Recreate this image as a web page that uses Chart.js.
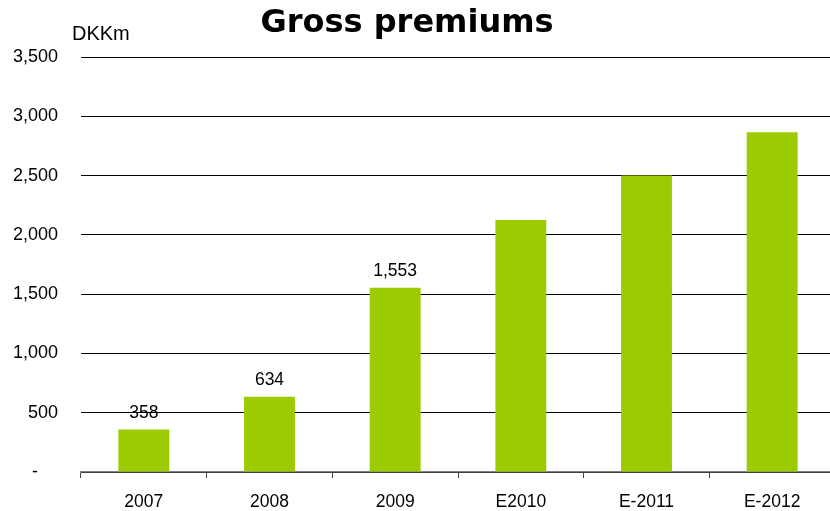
<!DOCTYPE html>
<html>
<head>
<meta charset="utf-8">
<script src="https://cdn.jsdelivr.net/npm/chart.js@4.4.1/dist/chart.umd.min.js"></script>
<style>
html,body{margin:0;padding:0;background:#fff;overflow:hidden;}
#wrap{width:830px;height:511px;position:relative;overflow:hidden;}
</style>
</head>
<body>
<div id="wrap"><canvas id="c" width="835" height="511"></canvas></div>
<script>
const categories = ['2007', '2008', '2009', 'E2010', 'E-2011', 'E-2012'];
const grossPremiums = [358, 634, 1553, 2125, 2500, 2866];
const valueLabels = ['358', '634', '1,553', '', '', ''];
const yTicks = [0, 500, 1000, 1500, 2000, 2500, 3000, 3500];
const titleText = 'Gross premiums';
const unitText = 'DKKm';

const barColor = '#9BCB00';

const decorPlugin = {
  id: 'decor',
  afterDraw(chart) {
    const ctx = chart.ctx;
    ctx.save();
    ctx.fillStyle = '#000';
    ctx.textAlign = 'center';
    ctx.textBaseline = 'alphabetic';
    ctx.font = 'bold 32px "DejaVu Sans"';
    ctx.fillText(titleText, 407, 32);
    ctx.font = '20px "Liberation Sans"';
    ctx.textAlign = 'left';
    ctx.fillText(unitText, 72, 40);
    const meta = chart.getDatasetMeta(0);
    ctx.font = '17.5px "Liberation Sans"';
    ctx.textAlign = 'center';
    meta.data.forEach((bar, i) => {
      const t = valueLabels[i];
      if (t) ctx.fillText(t, bar.x, bar.y - 12);
    });
    ctx.restore();
  }
};

new Chart(document.getElementById('c'), {
  type: 'bar',
  data: {
    labels: categories,
    datasets: [{
      data: grossPremiums,
      backgroundColor: barColor,
      borderWidth: 0,
      categoryPercentage: 1.0,
      barPercentage: 0.405
    }]
  },
  options: {
    responsive: false,
    animation: false,
    devicePixelRatio: 1,
    layout: { padding: { top: 57, right: 0, bottom: 0, left: 0 } },
    plugins: {
      legend: { display: false },
      title: { display: false },
      tooltip: { enabled: false }
    },
    scales: {
      x: {
        grid: {
          offset: true,
          drawOnChartArea: false,
          drawTicks: true,
          tickLength: 6,
          color: '#444',
          lineWidth: 1
        },
        border: { display: true, color: '#808080', width: 1.5 },
        ticks: {
          color: '#000',
          font: { family: 'Liberation Sans', size: 17.5 },
          padding: 14,
          maxRotation: 0
        },
        afterFit(scale) { scale.height = 39; }
      },
      y: {
        min: 0,
        max: 3500,
        afterBuildTicks(scale) { scale.ticks = yTicks.map(v => ({ value: v })); },
        grid: {
          drawTicks: false,
          color: '#000',
          lineWidth: 1
        },
        border: { display: false },
        ticks: {
          color: '#000',
          font: { family: 'Liberation Sans', size: 18 },
          padding: 23,
          callback(v) { return v === 0 ? '-    ' : v.toLocaleString('en-US'); }
        },
        afterFit(scale) { scale.width = 81; }
      }
    }
  },
  plugins: [decorPlugin]
});
</script>
</body>
</html>
